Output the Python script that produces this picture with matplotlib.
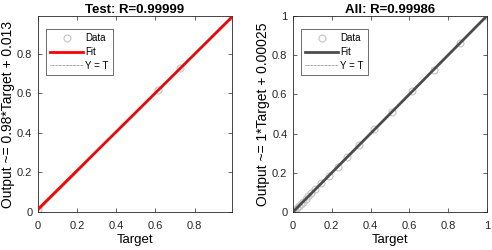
import numpy as np
import matplotlib
matplotlib.use("Agg")
import matplotlib.pyplot as plt

plt.rcParams['font.family'] = ['Liberation Sans', 'DejaVu Sans']

# Test panel
test_target = [0.0, 0.615, 0.725, 0.99]
test_output = [0.013, 0.615, 0.725, 0.983]
test_slope, test_icpt = 0.98, 0.013
test_lim = 0.99

# All panel
all_target = [0.0, 0.005, 0.01, 0.02, 0.03, 0.04, 0.05, 0.065, 0.08, 0.095,
              0.115, 0.145, 0.185, 0.23, 0.28, 0.34, 0.42, 0.51, 0.615, 0.725, 0.86, 1.0]
all_output = [0.002, 0.006, 0.011, 0.021, 0.031, 0.041, 0.051, 0.066, 0.081, 0.096,
              0.116, 0.146, 0.186, 0.231, 0.281, 0.341, 0.421, 0.511, 0.616, 0.726, 0.861, 1.0]
all_slope, all_icpt = 1.0, 0.00025
all_lim = 1.0

titles = ["Test: R=0.99999", "All: R=0.99986"]
ylabels = ["Output ~= 0.98*Target + 0.013", "Output ~= 1*Target + 0.00025"]
fit_colors = ["#ff0000", "#4d4d4d"]

fig = plt.figure(figsize=(4.92, 2.5), dpi=100)
axes = [fig.add_axes([0.077, 0.152, 0.394, 0.784]),
        fig.add_axes([0.5955, 0.152, 0.394, 0.784])]

data = [(test_target, test_output, test_slope, test_icpt, test_lim),
        (all_target, all_output, all_slope, all_icpt, all_lim)]

fmt = matplotlib.ticker.FuncFormatter(lambda v, p: f"{v:g}")

for ax, (t, o, s, b, lim), title, yl, fc in zip(axes, data, titles, ylabels, fit_colors):
    ax.plot(t, o, 'o', mfc='none', mec='#c4c4c4', ms=5, mew=0.8, label='Data', zorder=2)
    xs = np.array([0, lim])
    ax.plot(xs, s * xs + b, '-', color=fc, lw=2, label='Fit', zorder=3)
    ax.plot(xs, xs, color='#444444', lw=0.5, dashes=(1, 1), label='Y = T', zorder=4)
    ax.set_xlim(0, lim)
    ax.set_ylim(0, lim)
    ticks = [0, 0.2, 0.4, 0.6, 0.8] + ([1] if lim >= 1 else [])
    ax.set_xticks(ticks)
    ax.set_yticks(ticks)
    ax.xaxis.set_major_formatter(fmt)
    ax.yaxis.set_major_formatter(fmt)
    ax.tick_params(direction='in', top=True, right=True, labelsize=8, length=3,
                   width=0.5, colors='#262626')
    ax.tick_params(axis='x', pad=6.5)
    ax.tick_params(axis='y', pad=4)
    for sp in ax.spines.values():
        sp.set_linewidth(0.6)
        sp.set_color('#262626')
    ax.set_title(title, fontsize=9.5, fontweight='bold', pad=2)
    ax.set_xlabel("Target", fontsize=9.5, labelpad=2.5)
    ax.set_ylabel(yl, fontsize=10, labelpad=1.5)
    leg = ax.legend(loc='upper left', bbox_to_anchor=(0.04, 0.935), fontsize=7,
                    frameon=True, fancybox=False, edgecolor='#555555', framealpha=1,
                    handlelength=3.4, borderpad=0.45, labelspacing=0.4,
                    handletextpad=0.2, borderaxespad=0)
    leg.get_frame().set_linewidth(0.6)

fig.savefig("out.png", dpi=100)
